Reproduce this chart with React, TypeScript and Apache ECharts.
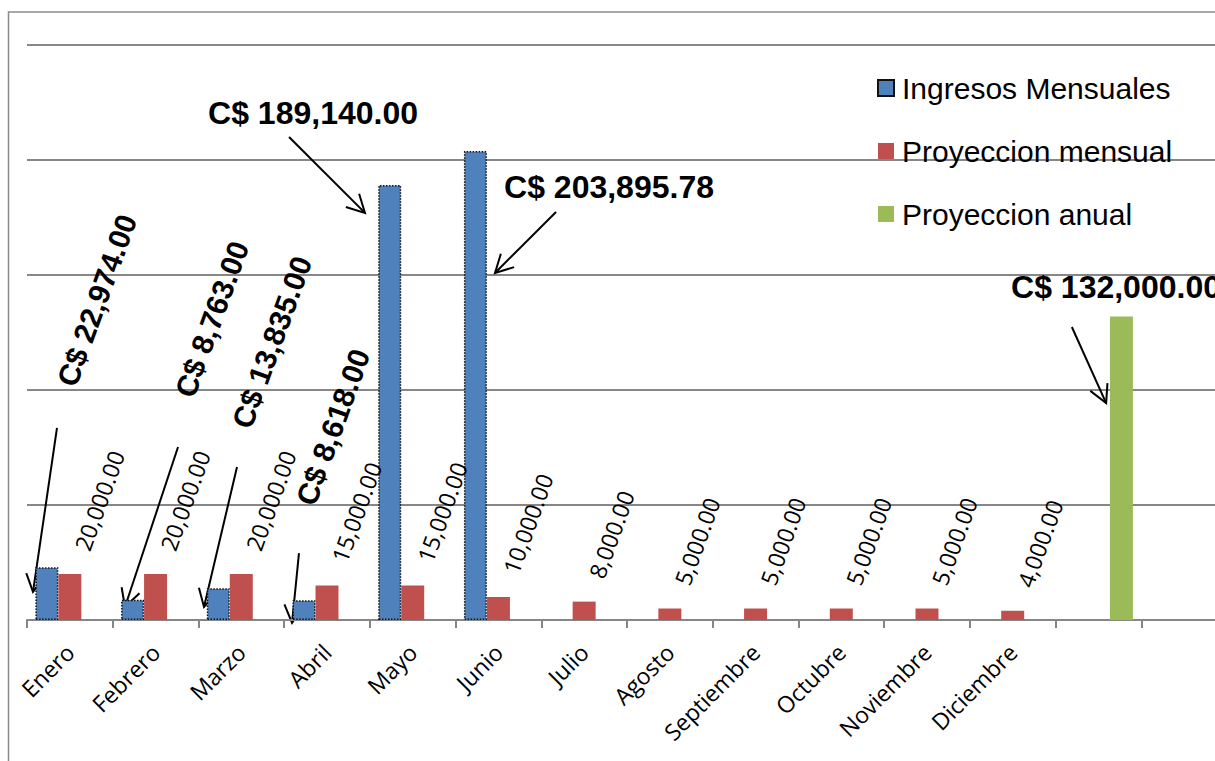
import React, { useEffect, useRef } from "react";
import * as echarts from "echarts";

const categories = [
  "Enero", "Febrero", "Marzo", "Abril", "Mayo", "Junio", "Julio", "Agosto",
  "Septiembre", "Octubre", "Noviembre", "Diciembre", "", "",
];
const ingresosMensuales: (number | null)[] = [
  22974, 8763, 13835, 8618, 189140, 203895.78, null, null, null, null, null, null, null, null,
];
const proyeccionMensual: (number | null)[] = [
  20000, 20000, 20000, 15000, 15000, 10000, 8000, 5000, 5000, 5000, 5000, 4000, null, null,
];
const proyeccionAnual: (number | null)[] = [
  null, null, null, null, null, null, null, null, null, null, null, null, 132000, null,
];
const yTicks = [0, 50000, 100000, 150000, 200000, 250000];

// Annotation callouts, positioned in data space: x in category slots (0..14), y in value units
const calloutTexts = [
  { text: "C$ 22,974.00", at: [0.817, 139000], rot: 70 },
  { text: "C$ 8,763.00", at: [2.158, 130800], rot: 70 },
  { text: "C$ 13,835.00", at: [2.858, 120800], rot: 70 },
  { text: "C$ 8,618.00", at: [3.57, 83900], rot: 70 },
  { text: "C$ 189,140.00", at: [3.337, 220400], rot: 0 },
  { text: "C$ 203,895.78", at: [6.79, 188200], rot: 0 },
  { text: "C$ 132,000.00", at: [12.705, 144800], rot: 0 },
];
const calloutArrows = [
  { from: [0.35, 83500], to: [0.07, 12200] },
  { from: [1.762, 75200], to: [1.143, 5650] },
  { from: [2.45, 66500], to: [2.065, 5650] },
  { from: [3.173, 29100], to: [3.092, -1300] },
  { from: [3.057, 210000], to: [3.943, 177000] },
  { from: [6.172, 177400], to: [5.46, 150900] },
  { from: [12.19, 127400], to: [12.59, 94300] },
];

const fmt = (v: number) =>
  v.toLocaleString("en-US", { minimumFractionDigits: 2, maximumFractionDigits: 2 });

export default function App() {
  const ref = useRef<HTMLDivElement>(null);
  useEffect(() => {
    document.body.style.margin = "0";
    document.body.style.overflow = "hidden";
    const chart = echarts.init(ref.current!, undefined, { renderer: "svg" });
    const option: any = {
      animation: false,
      backgroundColor: "#ffffff",
      grid: { left: 27, right: 0, top: 45, bottom: 141, containLabel: false },
      legend: {
        orient: "vertical",
        left: 877,
        top: 73,
        padding: 0,
        itemWidth: 16,
        itemHeight: 16,
        itemGap: 33,
        icon: "rect",
        textStyle: {
          fontFamily: "Liberation Sans",
          fontSize: 30,
          color: "#000",
          padding: [0, 0, 0, 3],
        },
        data: ["Ingresos Mensuales", "Proyeccion mensual", "Proyeccion anual"],
      },
      xAxis: [
        {
          type: "category",
          data: categories,
          axisLine: { lineStyle: { color: "#868686", width: 2 } },
          axisTick: { show: true, length: 8, lineStyle: { color: "#868686", width: 2 } },
          axisLabel: {
            interval: 0,
            rotate: 45,
            margin: 28,
            fontFamily: "Open Sans",
            fontSize: 23,
            color: "#000",
          },
          splitLine: { show: false },
        },
        { type: "value", min: 0, max: 14, show: false },
      ],
      yAxis: {
        type: "value",
        min: yTicks[0],
        max: yTicks[yTicks.length - 1],
        interval: 50000,
        axisLine: { show: false },
        axisTick: { show: false },
        axisLabel: { show: false },
        splitLine: { show: true, lineStyle: { color: "#878787", width: 2 } },
      },
      series: [
        {
          name: "Ingresos Mensuales",
          type: "bar",
          data: ingresosMensuales,
          barWidth: 23,
          barGap: "0%",
          itemStyle: {
            color: "#4F81BD",
            borderColor: "#111",
            borderWidth: 1.5,
            borderType: "dotted",
          },
        },
        {
          name: "Proyeccion mensual",
          type: "bar",
          data: proyeccionMensual,
          barWidth: 23,
          barGap: "0%",
          itemStyle: { color: "#C0504D" },
          label: {
            show: true,
            position: "top",
            distance: 16,
            offset: [12, 8],
            rotate: 70,
            align: "left",
            verticalAlign: "middle",
            fontFamily: "Open Sans",
            fontSize: 23,
            color: "#000",
            formatter: (p: any) => fmt(p.value),
          },
        },
        {
          name: "Proyeccion anual",
          type: "bar",
          data: proyeccionAnual,
          barWidth: 23,
          barGap: "0%",
          itemStyle: { color: "#9BBB59" },
        },
      ],
    };
    chart.setOption(option);

    const px = (pt: number[]) => [
      chart.convertToPixel({ xAxisIndex: 1 } as any, pt[0]) as unknown as number,
      chart.convertToPixel({ yAxisIndex: 0 } as any, pt[1]) as unknown as number,
    ];

    const graphics: any[] = [
      {
        type: "rect",
        shape: { x: 8.5, y: 12, width: 1400, height: 900 },
        style: { fill: "none", stroke: "#8a8a8a", lineWidth: 1.5 },
        silent: true,
      },
    ];
    calloutTexts.forEach((c) => {
      const [x, y] = px(c.at);
      graphics.push({
        type: "text",
        x,
        y,
        rotation: (c.rot * Math.PI) / 180,
        style: {
          text: c.text,
          fontFamily: "Liberation Sans",
          fontWeight: "bold",
          fontSize: c.rot === 0 ? 32 : 30,
          fill: "#000",
          align: "center",
          verticalAlign: "middle",
        },
      });
    });
    calloutArrows.forEach((a) => {
      const [x1, y1] = px(a.from);
      const [x2, y2] = px(a.to);
      const ang = Math.atan2(y2 - y1, x2 - x1);
      const L = 20;
      const spread = (28 * Math.PI) / 180;
      const p1 = [x2 - L * Math.cos(ang - spread), y2 - L * Math.sin(ang - spread)];
      const p2 = [x2 - L * Math.cos(ang + spread), y2 - L * Math.sin(ang + spread)];
      graphics.push({
        type: "line",
        shape: { x1, y1, x2, y2 },
        style: { stroke: "#000", lineWidth: 2 },
      });
      graphics.push({
        type: "polyline",
        shape: { points: [p1, [x2, y2], p2] },
        style: { stroke: "#000", lineWidth: 2, fill: "none" },
      });
    });
    chart.setOption({ graphic: graphics });

    return () => chart.dispose();
  }, []);
  return <div ref={ref} style={{ width: 1227, height: 761 }} />;
}
